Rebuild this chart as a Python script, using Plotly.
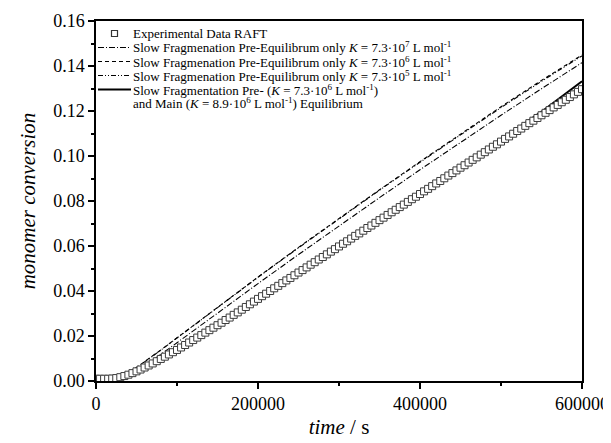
import plotly.graph_objects as go

# Experimental data (time in s, every 5000 s)
t_exp = [i * 5000 for i in range(121)]
x_exp = [0.0010, 0.0010, 0.0010, 0.0010, 0.0011, 0.0013, 0.0017, 0.0022, 0.0028, 0.0035,
         0.0043, 0.0051, 0.0060, 0.0069, 0.0078, 0.0088, 0.0098, 0.0108, 0.0118, 0.0128,
         0.0138, 0.0149, 0.0160, 0.0171, 0.0182, 0.0193, 0.0204, 0.0215, 0.0226, 0.0237,
         0.0248, 0.0259, 0.0271, 0.0282, 0.0294, 0.0305, 0.0317, 0.0329, 0.0341, 0.0353,
         0.0365, 0.0377, 0.0388, 0.0400, 0.0412, 0.0423, 0.0435, 0.0447, 0.0458, 0.0470,
         0.0482, 0.0493, 0.0505, 0.0517, 0.0528, 0.0540, 0.0551, 0.0563, 0.0575, 0.0586,
         0.0598, 0.0610, 0.0621, 0.0633, 0.0645, 0.0656, 0.0668, 0.0680, 0.0691, 0.0703,
         0.0715, 0.0726, 0.0738, 0.0750, 0.0761, 0.0773, 0.0784, 0.0796, 0.0808, 0.0819,
         0.0831, 0.0843, 0.0854, 0.0866, 0.0878, 0.0889, 0.0901, 0.0913, 0.0924, 0.0936,
         0.0948, 0.0959, 0.0971, 0.0983, 0.0994, 0.1006, 0.1017, 0.1029, 0.1041, 0.1052,
         0.1064, 0.1076, 0.1087, 0.1099, 0.1111, 0.1122, 0.1134, 0.1146, 0.1157, 0.1169,
         0.1181, 0.1192, 0.1204, 0.1216, 0.1227, 0.1239, 0.1250, 0.1262, 0.1274, 0.1285,
         0.1297]

# Simulation curves
t_sim = [0, 10000, 20000, 30000, 40000, 50000, 60000, 70000, 80000, 90000, 100000,
         120000, 140000, 160000, 180000, 200000, 250000, 300000, 350000, 400000,
         450000, 500000, 550000, 600000]
k7 = [0.0, 0.0, 0.0, 0.0008, 0.0025, 0.0045, 0.0068, 0.0092, 0.0118, 0.0144, 0.0170,
      0.0223, 0.0276, 0.0329, 0.0381, 0.0433, 0.0562, 0.0690, 0.0815, 0.0939,
      0.1061, 0.1181, 0.1299, 0.1415]
k6 = [0.0, 0.0, 0.0003, 0.0015, 0.0035, 0.0060, 0.0085, 0.0110, 0.0138, 0.0165, 0.0192,
      0.0247, 0.0302, 0.0356, 0.0409, 0.0462, 0.0594, 0.0723, 0.0850, 0.0975,
      0.1098, 0.1219, 0.1336, 0.1449]
k5 = [0.0, 0.0, 0.0003, 0.0015, 0.0035, 0.0059, 0.0084, 0.0109, 0.0137, 0.0164, 0.0191,
      0.0246, 0.0301, 0.0355, 0.0408, 0.0461, 0.0592, 0.0721, 0.0848, 0.0972,
      0.1095, 0.1215, 0.1332, 0.1445]
main = [0.0, 0.0, 0.0004, 0.0014, 0.0026, 0.0041, 0.0058, 0.0076, 0.0096, 0.0116, 0.0137,
        0.0181, 0.0225, 0.0270, 0.0316, 0.0364, 0.0482, 0.0599, 0.0715, 0.0833,
        0.0952, 0.1072, 0.1197, 0.1332]

legend_labels = [
    "Experimental Data RAFT",
    "Slow Fragmenation Pre-Equilibrum only <i>K</i> = 7.3·10<sup>7</sup> L mol<sup>-1</sup>",
    "Slow Fragmenation Pre-Equilibrum only <i>K</i> = 7.3·10<sup>6</sup> L mol<sup>-1</sup>",
    "Slow Fragmenation Pre-Equilibrum only <i>K</i> = 7.3·10<sup>5</sup> L mol<sup>-1</sup>",
    "Slow Fragmentation Pre- (<i>K</i> = 7.3·10<sup>6</sup> L mol<sup>-1</sup>)",
    "and Main (<i>K</i> = 8.9·10<sup>6</sup> L mol<sup>-1</sup>) Equilibrium",
]

font = "Liberation Serif"
MK = "#3c3c3c"
styles = [
    dict(color="black", width=1.1, dash="6px,2px,1px,2px"),
    dict(color="black", width=1.1, dash="4px,3px"),
    dict(color="black", width=1.1, dash="5px,2px,1px,2px,1px,2px"),
    dict(color="black", width=2),
]

fig = go.Figure()
for ys, st, nm in zip([k7, k6, k5, main], styles, legend_labels[1:5]):
    fig.add_trace(go.Scatter(x=t_sim, y=ys, mode="lines", name=nm, line=st, showlegend=False))
fig.add_trace(go.Scatter(x=t_exp, y=x_exp, mode="markers", name=legend_labels[0], showlegend=False,
                         marker=dict(symbol="square", size=7, color="white",
                                     line=dict(width=1, color=MK))))

# manual legend (screen pixel layout -> paper coords)
L, R, T, B = 96, 582, 21, 381
def px(x):
    return (x - L) / (R - L)
def py(y):
    return (B - y) / (B - T)

rows = [33.5, 47.5, 61.5, 75.5, 89.5, 103.5]
shapes = [dict(type="rect", xref="paper", yref="paper",
               x0=px(111.5), x1=px(117.5), y0=py(rows[0] + 3), y1=py(rows[0] - 3),
               line=dict(color="#333333", width=1.2))]
for st, r in zip(styles, rows[1:5]):
    shapes.append(dict(type="line", xref="paper", yref="paper",
                       x0=px(98), x1=px(131), y0=py(r), y1=py(r), line=st))
annotations = []
for txt, r in zip(legend_labels, rows):
    annotations.append(dict(xref="paper", yref="paper", x=px(132), y=py(r),
                            xanchor="left", yanchor="middle", text=txt, showarrow=False,
                            borderpad=0,
                            font=dict(family=font, size=13, color="black")))

axis_common = dict(showline=True, linecolor="black", linewidth=1.5, mirror=True,
                   ticks="outside", ticklen=6, tickwidth=1.5, tickcolor="black",
                   showgrid=False, zeroline=False, ticklabeloverflow="allow",
                   automargin=False,
                   tickfont=dict(family=font, size=18, color="black"))
fig.update_xaxes(range=[0, 600000], dtick=200000, tickformat="d",
                 minor=dict(dtick=100000, ticks="outside", ticklen=3, tickwidth=1.5, tickcolor="black"),
                 title=dict(text="<i>time</i> / s", font=dict(family=font, size=21, color="black"), standoff=6),
                 **axis_common)
fig.update_yaxes(range=[0, 0.16], dtick=0.02, tickformat=".2f",
                 minor=dict(dtick=0.01, ticks="outside", ticklen=3, tickwidth=1.5, tickcolor="black"),
                 title=dict(text="<i>monomer conversion</i>", font=dict(family=font, size=21, color="black"), standoff=12),
                 **axis_common)
# page body has an 8px default margin: figure is sized/placed so the plot area
# lands at the same screen pixels as the reference
fig.update_layout(
    width=603, height=435,
    margin=dict(l=88, r=29, t=13, b=62),
    plot_bgcolor="white", paper_bgcolor="white",
    font=dict(family=font, size=13, color="black"),
    shapes=shapes, annotations=annotations,
    showlegend=False,
)
fig.write_html("out.html")
